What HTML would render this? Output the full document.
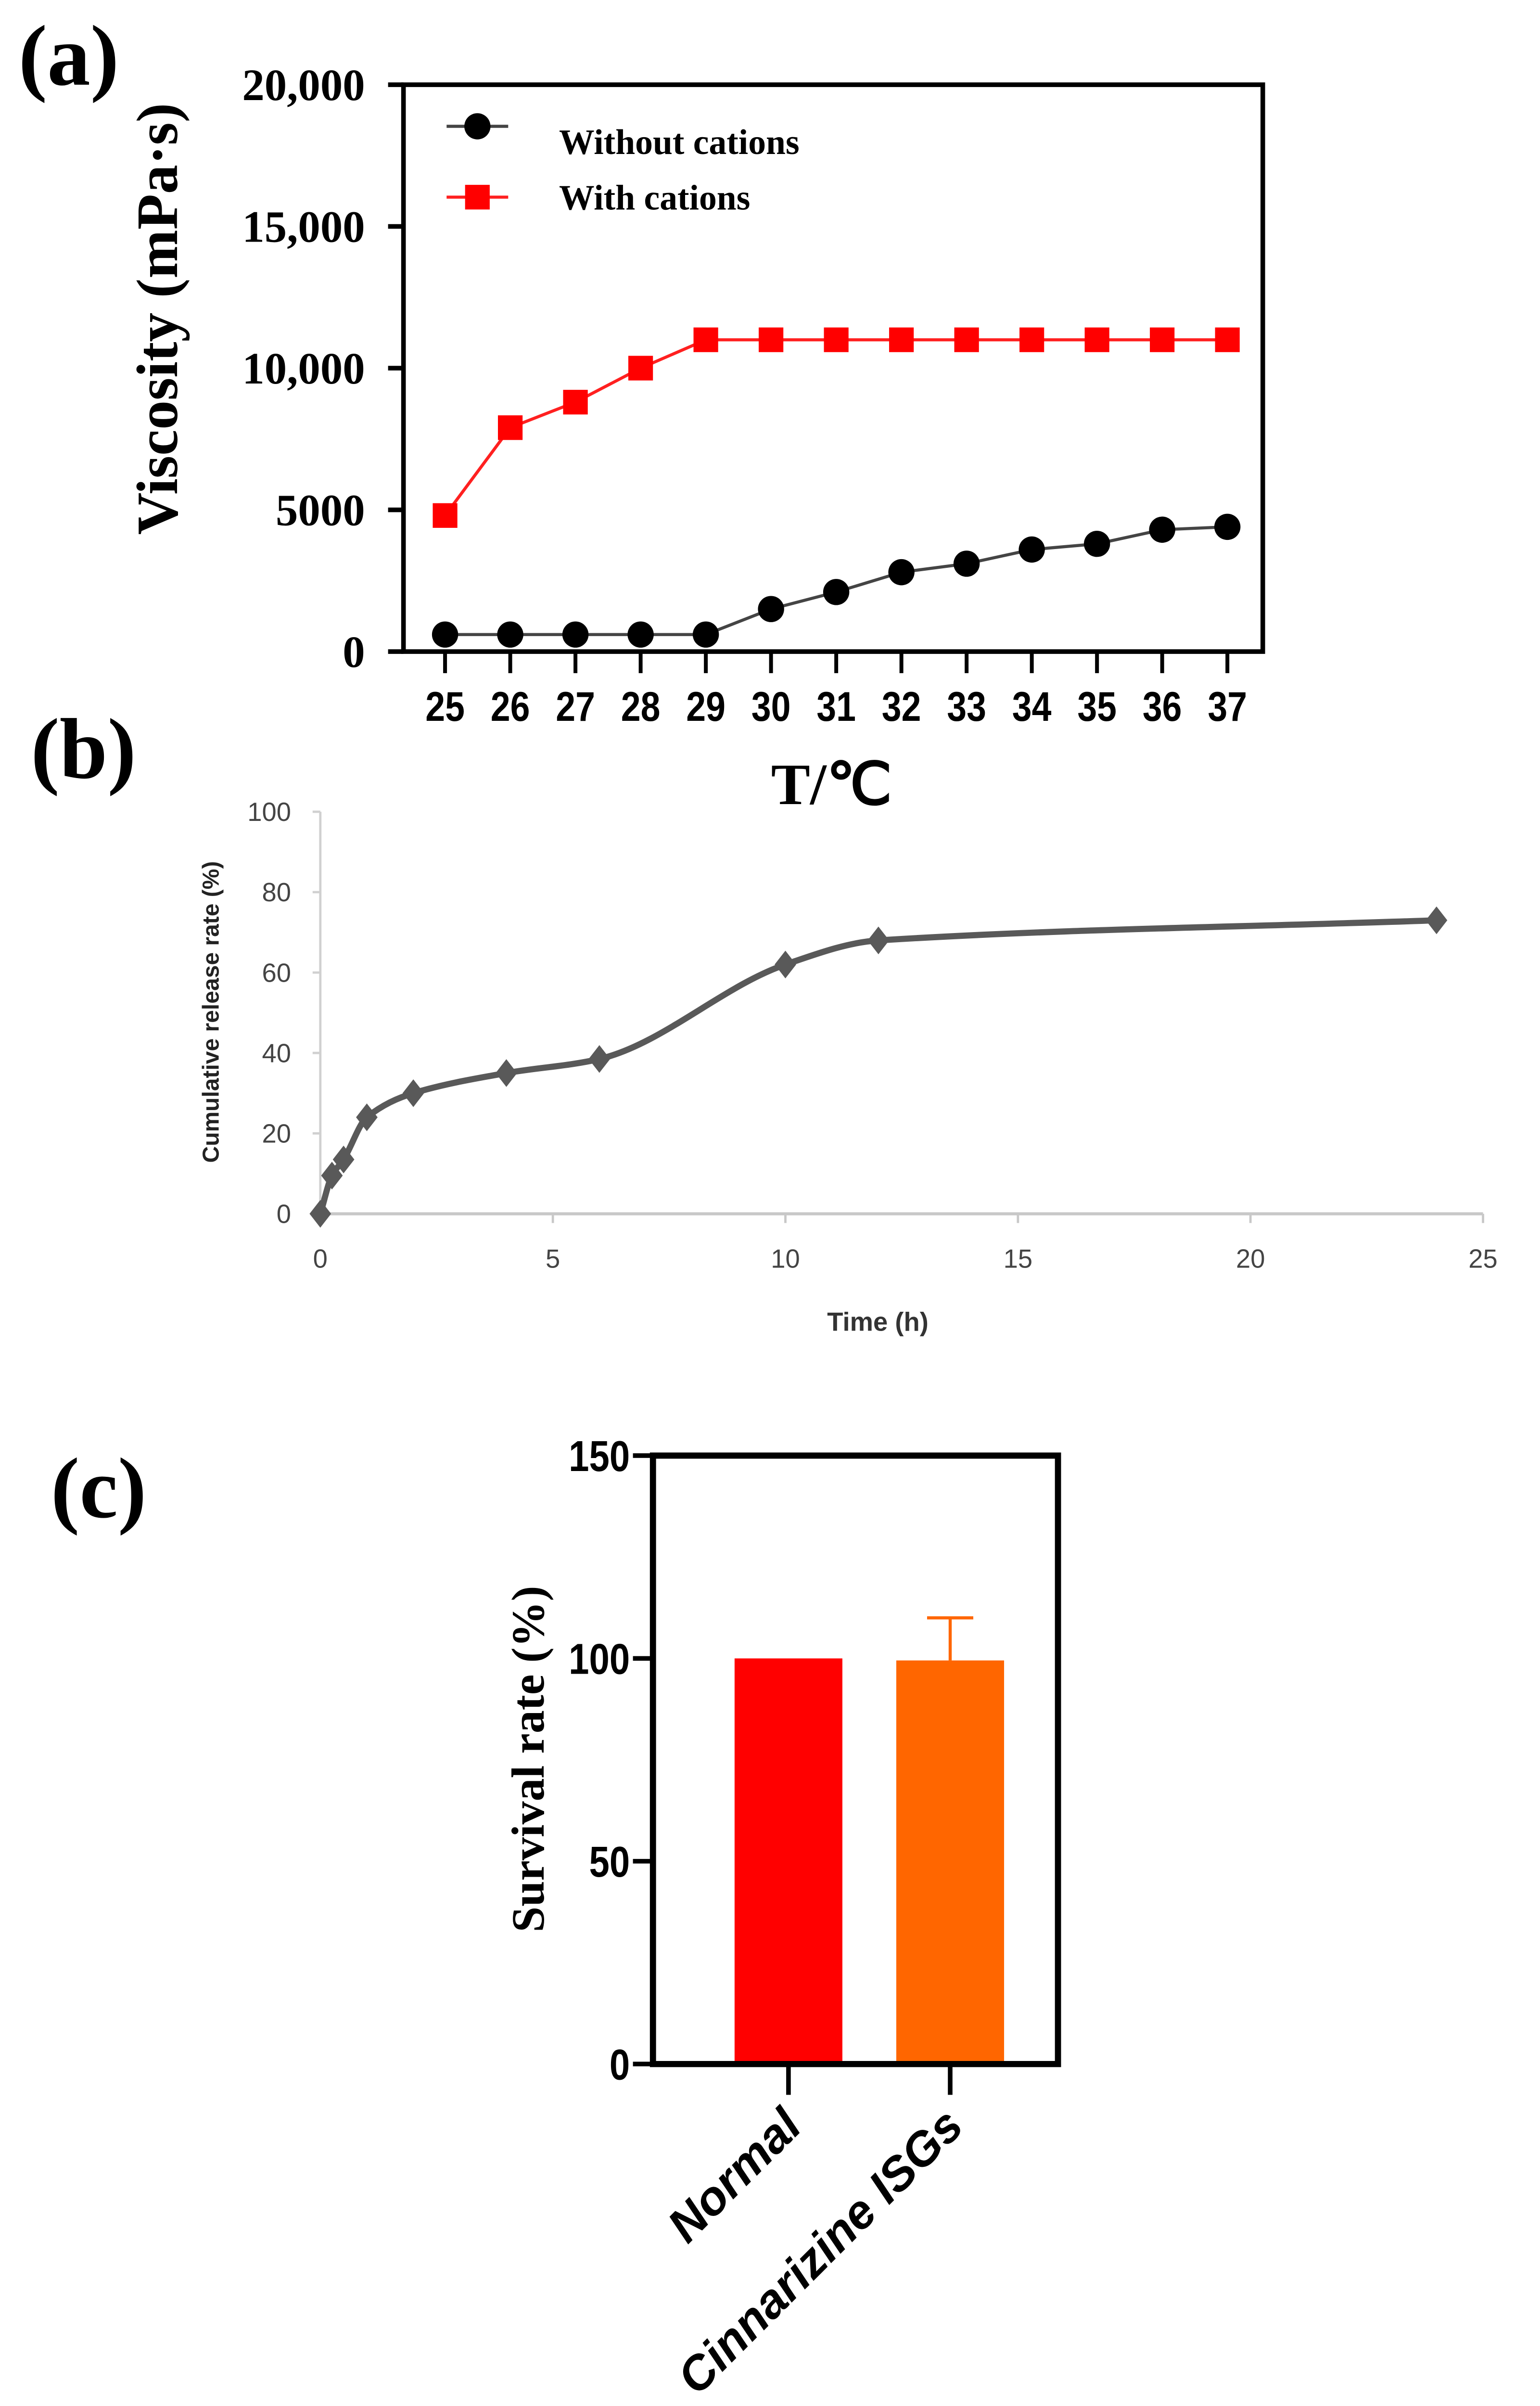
<!DOCTYPE html>
<html><head><meta charset="utf-8"><style>
html,body{margin:0;padding:0;background:#fff;width:3201px;height:5076px;overflow:hidden;}
svg{display:block;}
.serif{font-family:"Liberation Serif",serif;font-weight:bold;}
.sans{font-family:"Liberation Sans",sans-serif;}
</style></head><body>
<svg id="fig" width="3201" height="5076" viewBox="0 0 1000 1585.75" xmlns="http://www.w3.org/2000/svg" overflow="hidden">
<rect width="1000" height="1586" fill="#fff"/>
<text class="serif" x="12" y="55" font-size="56">(a)</text>
<text class="serif" x="20" y="505" font-size="56">(b)</text>
<text class="serif" x="33" y="985" font-size="56">(c)</text>
<g id="ga"></g>
<g id="gb"></g>
<g id="gc"></g>
</svg>
<script>
// Panel (a) data
const tempCats = [25,26,27,28,29,30,31,32,33,34,35,36,37];
const withoutCations = [600,600,600,600,600,1500,2100,2800,3100,3600,3800,4300,4400];
const withCations = [4800,7900,8800,10000,11000,11000,11000,11000,11000,11000,11000,11000,11000];
const viscTicks = [0,5000,10000,15000,20000];
const viscTickLabels = ["0","5000","10,000","15,000","20,000"];
// Panel (b) data
const timeH = [0,0.25,0.5,1,2,4,6,10,12,24];
const releasePct = [0,9.5,13.5,24,30,35,38.5,62,68,73];
const timeTicks = [0,5,10,15,20,25];
const releaseTicks = [0,20,40,60,80,100];
// Panel (c) data
const groups = ["Normal","Cinnarizine ISGs"];
const survival = [100,99.5];
const survivalErr = [0,10.5];
const survivalTicks = [0,50,100,150];

const NS="http://www.w3.org/2000/svg";
function mk(parent,tag,attrs,text){const e=document.createElementNS(NS,tag);for(const k in attrs)e.setAttribute(k,attrs[k]);if(text!==undefined)e.textContent=text;parent.appendChild(e);return e;}

// ---------- Panel A ----------
(function(){
const g=document.getElementById('ga');
const L=262,R=820,T=55,B=423;
const xA=v=>289+(v-25)*(797-289)/12;
const yA=v=>B-(v/20000)*(B-T);
let e=mk(g,'path',{d:`M${L} ${T}H${R}V${B}H${L}Z`,fill:'none',stroke:'#000','stroke-width':3});


viscTicks.forEach((t,i)=>{
 let tk=mk(g,'line',{x1:L-10,x2:L,y1:yA(t),y2:yA(t),stroke:'#000','stroke-width':3});
 
 
 let lb=mk(g,'text',{x:237,y:yA(t)+10,'text-anchor':'end','font-size':29,class:'serif'},viscTickLabels[i]);
 
 
});
tempCats.forEach(c=>{
 let tk=mk(g,'line',{x1:xA(c),x2:xA(c),y1:B,y2:B+14,stroke:'#000','stroke-width':2.5});
 
 
 let lb=mk(g,'text',{x:xA(c),y:468,'text-anchor':'middle','font-size':27,'font-weight':'bold',class:'sans',transform:`translate(${xA(c)} 468) scale(0.85 1) translate(${-xA(c)} -468)`},String(c));
 
 
});
let xt=mk(g,'text',{x:540,y:522,'text-anchor':'middle','font-size':38,class:'serif'},'T/℃');


let yt=mk(g,'text',{x:0,y:0,'text-anchor':'middle','font-size':38,class:'serif',transform:'translate(115 207) rotate(-90)'},'Viscosity (mPa·s)');


let bl=mk(g,'polyline',{points:tempCats.map((c,i)=>xA(c)+','+yA(withoutCations[i])).join(' '),fill:'none',stroke:'#444','stroke-width':2});


let rl=mk(g,'polyline',{points:tempCats.map((c,i)=>xA(c)+','+yA(withCations[i])).join(' '),fill:'none',stroke:'#ff2020','stroke-width':2});


tempCats.forEach((c,i)=>{
 let p=mk(g,'circle',{cx:xA(c),cy:yA(withoutCations[i]),r:8.5,fill:'#000'});
 
 
 let s=mk(g,'rect',{x:xA(c)-8,y:yA(withCations[i])-8,width:16,height:16,fill:'#ff0000'});
 
 
});
// legend
let l1=mk(g,'line',{x1:290,x2:330,y1:82,y2:82,stroke:'#444','stroke-width':2});


let m1=mk(g,'circle',{cx:310,cy:82,r:8.5,fill:'#000'});


let t1=mk(g,'text',{x:363,y:100,'font-size':23,class:'serif'},'Without cations');


let l2=mk(g,'line',{x1:290,x2:330,y1:128,y2:128,stroke:'#ff2020','stroke-width':2});


let m2=mk(g,'rect',{x:302,y:120,width:16,height:16,fill:'#ff0000'});


let t2=mk(g,'text',{x:363,y:136,'font-size':23,class:'serif'},'With cations');


})();

// ---------- Panel B ----------
(function(){
const g=document.getElementById('gb');
const L=208,R=963,B=788,T=527;
const xB=v=>L+(v/25)*(R-L);
const yB=v=>B-(v/100)*(B-T);
let ya=mk(g,'line',{x1:L,x2:L,y1:T,y2:B,stroke:'#d0d0d0','stroke-width':1.5});


let xa=mk(g,'line',{x1:L,x2:R,y1:B,y2:B,stroke:'#c8c8c8','stroke-width':2});


releaseTicks.forEach(t=>{
 let tk=mk(g,'line',{x1:L-5,x2:L,y1:yB(t),y2:yB(t),stroke:'#d0d0d0','stroke-width':1.5});
 
 
 let lb=mk(g,'text',{x:189,y:yB(t)+6,'text-anchor':'end','font-size':17,fill:'#444',class:'sans'},String(t));
 
 
});
timeTicks.forEach(t=>{
 let tk=mk(g,'line',{x1:xB(t),x2:xB(t),y1:B,y2:B+6,stroke:'#c8c8c8','stroke-width':1.5});
 
 
 let lb=mk(g,'text',{x:xB(t),y:823,'text-anchor':'middle','font-size':17,fill:'#444',class:'sans'},String(t));
 
 
});
let xt=mk(g,'text',{x:570,y:864,'text-anchor':'middle','font-size':17,'font-weight':'bold',fill:'#333',class:'sans'},'Time (h)');


let yt=mk(g,'text',{x:0,y:0,'text-anchor':'middle','font-size':15,'font-weight':'bold',fill:'#222',class:'sans',transform:'translate(142 657) rotate(-90)'},'Cumulative release rate (%)');


const pts=timeH.map((t,i)=>[xB(t),yB(releasePct[i])]);
// slopes via finite differences, Hermite with x-spacing
const n=pts.length;
const m=pts.map((p,i)=>{
 if(i===0) return (pts[1][1]-p[1])/(pts[1][0]-p[0]);
 if(i===n-1) return (p[1]-pts[i-1][1])/(p[0]-pts[i-1][0]);
 const d0=(p[1]-pts[i-1][1])/(p[0]-pts[i-1][0]);
 const d1=(pts[i+1][1]-p[1])/(pts[i+1][0]-p[0]);
 if(d0*d1<=0) return 0;
 return 2/(1/d0+1/d1);
});
let d=`M${pts[0][0]} ${pts[0][1]}`;
for(let i=0;i<n-1;i++){
 const h=(pts[i+1][0]-pts[i][0])/3;
 d+=` C${pts[i][0]+h} ${pts[i][1]+m[i]*h} ${pts[i+1][0]-h} ${pts[i+1][1]-m[i+1]*h} ${pts[i+1][0]} ${pts[i+1][1]}`;
}
let ln=mk(g,'path',{d:d,fill:'none',stroke:'#595959','stroke-width':4});


pts.forEach(p=>{
 let dm=mk(g,'path',{d:`M${p[0]} ${p[1]-9}L${p[0]+7} ${p[1]}L${p[0]} ${p[1]+9}L${p[0]-7} ${p[1]}Z`,fill:'#595959'});
 
 
});
})();

// ---------- Panel C ----------
(function(){
const g=document.getElementById('gc');
const L=424,R=687,T=945,B=1340;
const yC=v=>B-(v/150)*(B-T);
const centers=[512,617];const bw=70;
survival.forEach((v,i)=>{
 let b=mk(g,'rect',{x:centers[i]-bw/2,y:yC(v),width:bw,height:B-yC(v),fill:i===0?'#ff0000':'#ff6600'});
 
 
 if(survivalErr[i]>0){
  let eb=mk(g,'path',{d:`M${centers[i]} ${yC(v)}V${yC(v+survivalErr[i])}M${centers[i]-15} ${yC(v+survivalErr[i])}H${centers[i]+15}`,stroke:'#ff6600','stroke-width':2,fill:'none'});
  
  
 }
 let tk=mk(g,'line',{x1:centers[i],x2:centers[i],y1:B,y2:B+20,stroke:'#000','stroke-width':3});
 
 
 let lb=mk(g,'text',{x:0,y:0,'text-anchor':'end','font-size':31,'font-weight':'bold','font-style':'italic',class:'sans',transform:`translate(${centers[i]+10} ${B+42}) rotate(-45)`},groups[i]);
 
 
});
let fr=mk(g,'path',{d:`M${L} ${T}H${R}V${B}H${L}Z`,fill:'none',stroke:'#000','stroke-width':4});


survivalTicks.forEach(t=>{
 let tk=mk(g,'line',{x1:L-13,x2:L,y1:yC(t),y2:yC(t),stroke:'#000','stroke-width':3});
 
 
 let lb=mk(g,'text',{x:L-15,y:yC(t)+10,'text-anchor':'end','font-size':28,'font-weight':'bold',class:'sans',transform:`translate(${L-15} ${yC(t)}) scale(0.85 1) translate(${-(L-15)} ${-yC(t)})`},String(t));
 
 
});
let yt=mk(g,'text',{x:0,y:0,'text-anchor':'middle','font-size':30,class:'serif',transform:'translate(353 1142) rotate(-90)'},'Survival rate (%)');


})();
</script>
</body></html>
